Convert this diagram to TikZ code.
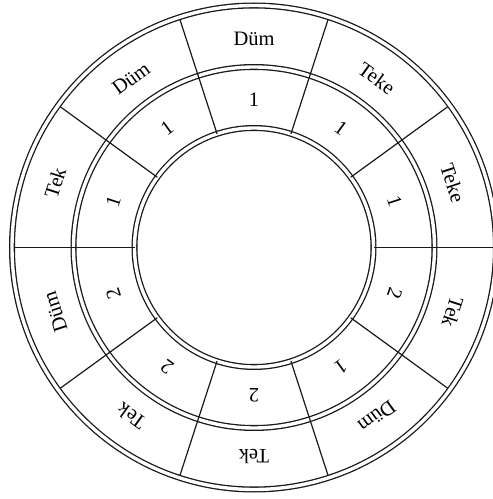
\documentclass[tikz,border=0pt]{standalone}
\usepackage{fontspec}
\setmainfont{Liberation Serif}
\begin{document}
\begin{tikzpicture}[x=1pt,y=1pt,
  ring/.style={draw=black!90, line width=1.3pt, double=white, double distance=3.4pt},
  spoke/.style={draw=black!90, line width=1.2pt},
  lab/.style={font=\fontsize{20.5}{24}\selectfont, inner sep=0pt, text=black}]
\useasboundingbox (0,0) rectangle (493,499);
\clip (0,0) rectangle (493,499);
\coordinate (c) at (254,251.5);
\draw[ring] (c) circle[radius=242];
\draw[ring] (c) circle[radius=180.5];
\draw[ring] (c) circle[radius=119.5];
\foreach \a [count=\i] in {0,36,...,324} {
  \coordinate (s\i) at ([shift={(\a:119.5)}]c);
  \coordinate (e\i) at ([shift={(\a:239.5)}]c);
  \draw[spoke] (s\i) -- (e\i);
}
\foreach \a/\w/\n [count=\i] in {90/Düm/1, 54/Teke/1, 18/Teke/1, -18/Tek/2, -54/Düm/1, -90/Tek/2, -126/Tek/2, -162/Düm/2, 162/Tek/1, 126/Düm/1} {
  \node[lab, rotate=\a-90] (w\i) at ([shift={(\a:209)}]c) {\w};
  \node[lab, rotate=\a-90] (n\i) at ([shift={(\a:148)}]c) {\n};
}
\end{tikzpicture}
\end{document}
